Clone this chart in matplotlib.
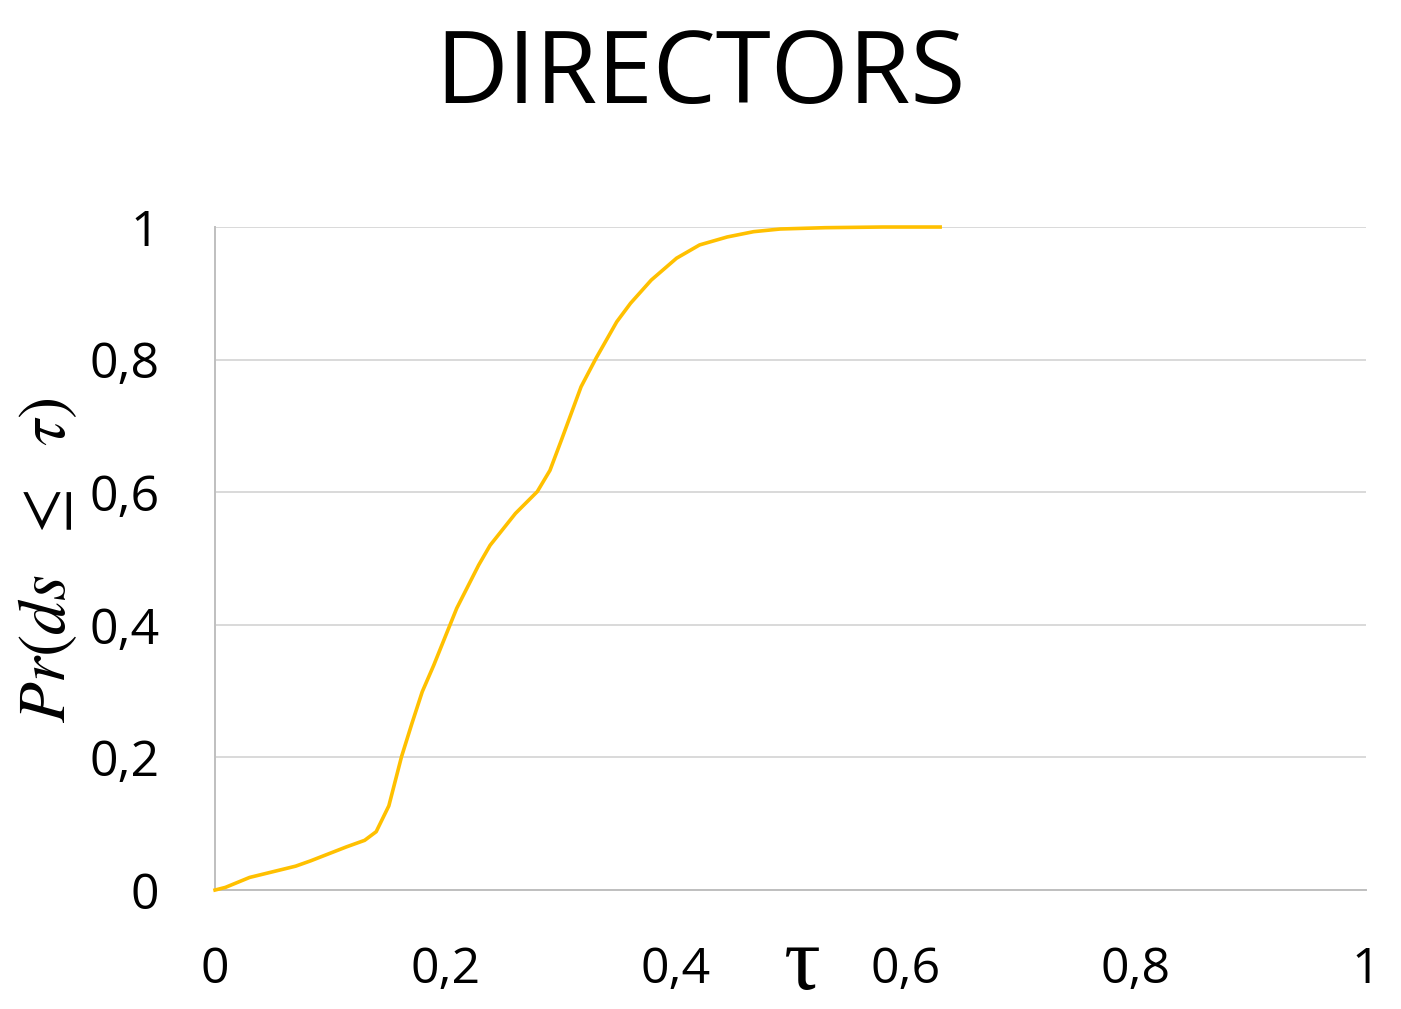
import matplotlib
matplotlib.use("Agg")
import matplotlib.pyplot as plt

# CDF values
tau = [0.0, 0.009, 0.030, 0.070, 0.083, 0.114, 0.130, 0.140, 0.151, 0.162,
       0.171, 0.180, 0.190, 0.203, 0.210, 0.229, 0.239, 0.261, 0.280, 0.291,
       0.301, 0.318, 0.331, 0.349, 0.361, 0.379, 0.401, 0.421, 0.445, 0.468,
       0.491, 0.530, 0.580, 0.630]
prob = [0.0, 0.004, 0.019, 0.036, 0.044, 0.065, 0.075, 0.088, 0.127, 0.201,
        0.251, 0.299, 0.339, 0.395, 0.425, 0.490, 0.520, 0.568, 0.601, 0.633,
        0.679, 0.759, 0.802, 0.857, 0.885, 0.920, 0.953, 0.973, 0.985, 0.993,
        0.997, 0.999, 1.0, 1.0]

ticks = [0, 0.2, 0.4, 0.6, 0.8, 1]
tick_labels = ['0', '0,2', '0,4', '0,6', '0,8', '1']

plt.rcParams['font.family'] = ['Open Sans', 'DejaVu Sans']
plt.rcParams['mathtext.fontset'] = 'stix'

fig = plt.figure(figsize=(14.01, 10.09), dpi=100)
ax = fig.add_axes([0.1535, 0.1179, 0.8215, 0.6571])

ax.plot(tau, prob, color='#FFC000', linewidth=2.6, zorder=3, clip_on=False)

ax.set_xlim(0, 1)
ax.set_ylim(0, 1)
ax.set_xticks(ticks)
ax.set_xticklabels(tick_labels)
ax.set_yticks(ticks)
ax.set_yticklabels(tick_labels)
ax.tick_params(axis='both', length=0, labelsize=36)
ax.tick_params(axis='x', pad=40)
ax.tick_params(axis='y', pad=40)

ax.yaxis.grid(True, color='#d9d9d9', linewidth=1.4, zorder=0)
for s in ['top', 'right']:
    ax.spines[s].set_visible(False)
for s in ['left', 'bottom']:
    ax.spines[s].set_color('#bfbfbf')
    ax.spines[s].set_linewidth(1.4)

fig.text(0.5, 0.924, 'DIRECTORS', ha='center', va='center', fontsize=72)
fig.text(0.573, 0.001, '\u03c4', ha='center', va='bottom', fontsize=66,
         family='Liberation Serif')
fig.text(0.034, 0.445, r'$Pr(ds\ \ \leq\ \ \tau)$', ha='center', va='center',
         rotation=90, fontsize=48)

plt.savefig('out.png', dpi=100)
